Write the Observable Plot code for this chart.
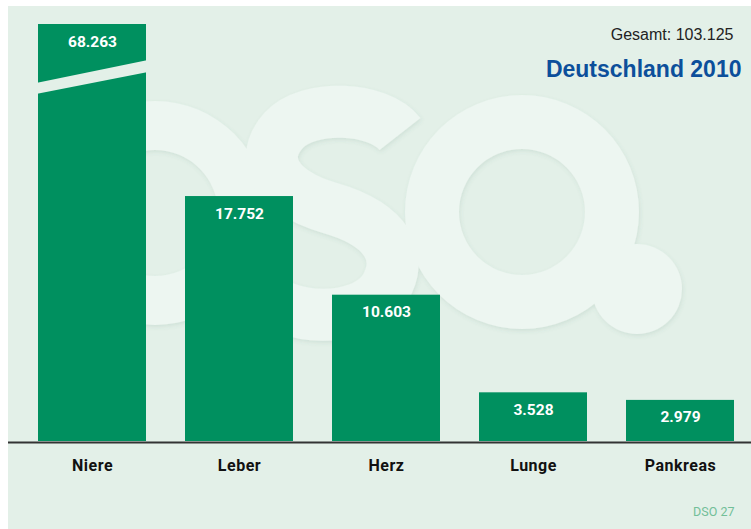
<!DOCTYPE html>
<html><head><meta charset="utf-8">
<script src="https://cdn.jsdelivr.net/npm/d3@7"></script>
<script src="https://cdn.jsdelivr.net/npm/@observablehq/plot@0.6"></script>
<style>
html,body{margin:0;padding:0;background:#fff;width:751px;height:529px;overflow:hidden}
#chart{position:absolute;left:8px;top:6px;width:743px;height:523px;background:#e3f0e8}
#chart svg{display:block}
</style></head><body><div id="chart"></div>
<script>
// ---- data ----
const organs = ["Niere", "Leber", "Herz", "Lunge", "Pankreas"];
const counts = [68263, 17752, 10603, 3528, 2979];
const valueLabels = ["68.263", "17.752", "10.603", "3.528", "2.979"];
const totalLabel = "Gesamt: 103.125";
const titleLabel = "Deutschland 2010";
const sourceLabel = "DSO 27";
const yMax = 30220;                 // value axis is cut here (Niere bar broken)
const breakLeft = [25150, 25940];   // break band values at the bar's left edge
const breakRight = [26740, 27610];  // break band values at the bar's right edge

const data = organs.map((o, i) => ({organ: o, count: counts[i], label: valueLabels[i], shown: Math.min(counts[i], yMax)}));

const plot = Plot.plot({
  width: 743, height: 523,
  marginTop: 18, marginBottom: 88, marginLeft: 0, marginRight: 0,
  style: {background: "transparent", fontFamily: "Roboto, sans-serif", overflow: "visible"},
  x: {domain: organs, range: [29, 726], paddingInner: 0.267, paddingOuter: 0, label: null},
  y: {domain: [0, yMax], axis: null},
  marks: [
    Plot.barY(data, {x: "organ", y: "count", fill: "#00905f", clip: true}),
    Plot.ruleY([0], {stroke: "#333", strokeWidth: 2, dy: 1}),
    Plot.text(data, {x: "organ", y: "shown", text: "label", lineAnchor: "top", dy: 11,
      fill: "white", fontWeight: "bold", fontSize: 15.5, ariaLabel: "values"}),
    Plot.axisX({tickSize: 0, tickPadding: 18, fontSize: 16, fontWeight: "bold", fill: "#111", label: null}),
    Plot.text([totalLabel], {frameAnchor: "top-right", textAnchor: "end", lineAnchor: "bottom",
      dx: -18, dy: 15, fontSize: 16, fill: "#222", fontFamily: "'Liberation Sans', Arial, sans-serif", ariaLabel: "total"}),
    Plot.text([titleLabel], {frameAnchor: "top-right", textAnchor: "end", lineAnchor: "bottom",
      dx: -10, dy: 52, fontSize: 23, fontWeight: "bold", fill: "#0c4f9b", fontFamily: "'Liberation Sans', Arial, sans-serif"}),
    Plot.text([sourceLabel], {frameAnchor: "bottom-right", textAnchor: "end", lineAnchor: "bottom",
      dx: -17, dy: 74, fontSize: 12.5, fill: "#72bf98"})
  ]
});

const svg = d3.select(plot);
svg.selectAll('g[aria-label="values"] text').style("letter-spacing", "1.2px");
svg.selectAll('g[aria-label="total"] text').style("letter-spacing", "0.3px");
svg.selectAll('g[aria-label="x-axis tick label"] text').style("font-weight", "bold").style("letter-spacing", "0.5px");

// watermark (decorative "dso." logo shapes)
const defs = svg.insert("defs", ":first-child");
const f = defs.append("filter").attr("id", "wmshadow").attr("x", "-10%").attr("y", "-10%").attr("width", "120%").attr("height", "120%");
f.append("feDropShadow").attr("dx", 1).attr("dy", 2).attr("stdDeviation", 2).attr("flood-color", "#4a7a60").attr("flood-opacity", 0.12);
const wm = svg.insert("g", "defs + *").attr("filter", "url(#wmshadow)");
const ring = (cx, cy, R, r) => `M${cx - R},${cy}a${R},${R} 0 1,0 ${2 * R},0a${R},${R} 0 1,0 ${-2 * R},0Z` +
  `M${cx - r},${cy}a${r},${r} 0 1,0 ${2 * r},0a${r},${r} 0 1,0 ${-2 * r},0Z`;
const wmFill = "#edf6f1";
wm.append("path").attr("fill", wmFill).attr("fill-rule", "evenodd").attr("d", ring(147, 207, 112, 63));
wm.append("path").attr("fill", "none").attr("stroke", wmFill).attr("stroke-width", 52)
  .attr("d", "M392,128 C370,100 300,98 276,124 C250,152 266,186 322,202 C378,218 398,250 376,284 C352,318 278,316 250,284");
wm.append("path").attr("fill", wmFill).attr("fill-rule", "evenodd").attr("d", ring(514, 206, 117, 63));
wm.append("circle").attr("fill", wmFill).attr("cx", 629).attr("cy", 283).attr("r", 45);

// axis break band on the Niere bar
const xs = plot.scale("x"), ys = plot.scale("y");
const bx0 = xs.apply("Niere") - 2, bx1 = xs.apply("Niere") + xs.bandwidth + 2;
svg.append("polygon").attr("fill", "#e3f0e8").attr("points", [
  [bx0, ys.apply(breakLeft[0])], [bx1, ys.apply(breakRight[0])],
  [bx1, ys.apply(breakRight[1])], [bx0, ys.apply(breakLeft[1])]
].map(p => p.join(",")).join(" "));

document.getElementById("chart").appendChild(plot);
</script></body></html>
